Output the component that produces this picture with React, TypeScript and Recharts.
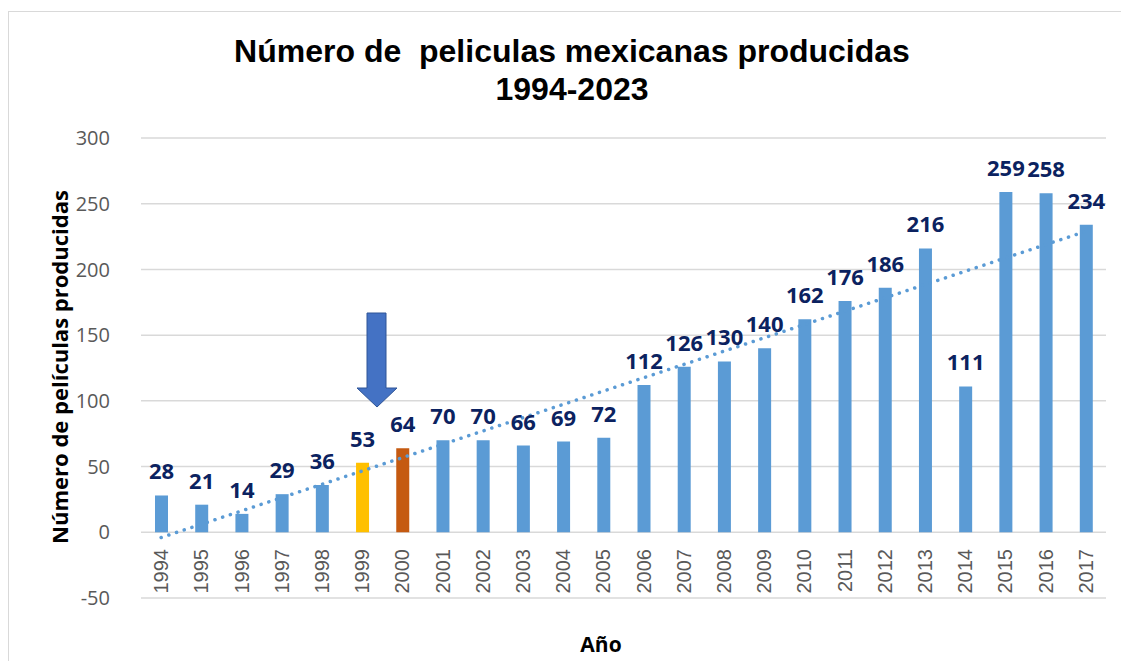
import React from "react";
import {
  ComposedChart,
  Bar,
  Line,
  XAxis,
  YAxis,
  CartesianGrid,
  Cell,
  LabelList,
} from "recharts";

// años y número de películas producidas
const years = [
  "1994", "1995", "1996", "1997", "1998", "1999", "2000", "2001",
  "2002", "2003", "2004", "2005", "2006", "2007", "2008", "2009",
  "2010", "2011", "2012", "2013", "2014", "2015", "2016", "2017",
];
const films = [
  28, 21, 14, 29, 36, 53, 64, 70, 70, 66, 69, 72,
  112, 126, 130, 140, 162, 176, 186, 216, 111, 259, 258, 234,
];
// tendencia lineal: valores al inicio y al final
const trendEnds = [-4, 229];
const yTicks = [-50, 0, 50, 100, 150, 200, 250, 300];
const highlight: Record<string, string> = {
  "1999": "#ffc000",
  "2000": "#c55a11",
};

const BAR = "#5b9bd5";
const GRAY = "#595959";

const chartData = years.map((year, i) => ({
  year,
  value: films[i],
  trend:
    i === 0 ? trendEnds[0] : i === years.length - 1 ? trendEnds[1] : null,
}));

const YearTick = (props: any) => {
  const { x, y, payload } = props;
  const tx = x + 7;
  const ty = y - 49;
  return (
    <text
      x={tx}
      y={ty}
      transform={`rotate(-90, ${tx}, ${ty})`}
      textAnchor="end"
      fill={GRAY}
      fontSize={20}
      fontFamily="'Liberation Sans', Arial, sans-serif"
    >
      {payload.value}
    </text>
  );
};

export default function App() {
  return (
    <div
      style={{
        position: "absolute",
        left: 0,
        top: 0,
        width: 1121,
        height: 661,
        overflow: "hidden",
        background: "#fff",
      }}
    >
      <div
        style={{
          position: "absolute",
          left: 8,
          top: 11,
          width: 1200,
          height: 800,
          border: "1.5px solid #d9d9d9",
        }}
      />
      <div style={{ position: "absolute", left: 0, top: 0 }}>
        <ComposedChart
          width={1121}
          height={661}
          data={chartData}
          margin={{ top: 138, right: 15, bottom: 62, left: 80 }}
        >
          <CartesianGrid stroke="#d9d9d9" strokeWidth={1.5} vertical={false} />
          <XAxis
            dataKey="year"
            axisLine={false}
            tickLine={false}
            tickSize={0}
            tickMargin={0}
            interval={0}
            height={1}
            tick={<YearTick />}
          />
          <YAxis
            domain={[-50, 300]}
            ticks={yTicks}
            width={61}
            axisLine={false}
            tickLine={false}
            tickSize={0}
            tickMargin={31}
            tick={{
              fill: GRAY,
              fontSize: 20,
              fontFamily: "'Open Sans', sans-serif",
            }}
          />
          <Bar dataKey="value" barSize={13} fill={BAR} isAnimationActive={false}>
            {chartData.map((d) => (
              <Cell key={d.year} fill={highlight[d.year] ?? BAR} />
            ))}
            <LabelList
              dataKey="value"
              position="top"
              offset={16}
              fill="#0b2260"
              fontSize={22}
              fontWeight={700}
              fontFamily="'Open Sans', sans-serif"
            />
          </Bar>
          <Line
            dataKey="trend"
            connectNulls
            dot={false}
            activeDot={false}
            stroke={BAR}
            strokeWidth={3.5}
            strokeDasharray="0.1 8"
            strokeLinecap="round"
            isAnimationActive={false}
          />
        </ComposedChart>
      </div>
      <svg
        width={1121}
        height={661}
        style={{ position: "absolute", left: 0, top: 0, pointerEvents: "none" }}
      >
        <g
          fontFamily="'Liberation Sans', Arial, sans-serif"
          fontWeight={700}
          fontSize={32}
          fill="#000"
          textAnchor="middle"
        >
          <text x={572} y={62} style={{ whiteSpace: "pre" }}>
            Número de  peliculas mexicanas producidas
          </text>
          <text x={572} y={100}>
            1994-2023
          </text>
        </g>
        <text
          x={68}
          y={367}
          transform="rotate(-90, 68, 367)"
          textAnchor="middle"
          fontFamily="'Open Sans', sans-serif"
          fontWeight={700}
          fontSize={22}
          fill="#000"
        >
          Número de películas producidas
        </text>
        <text
          x={601}
          y={652}
          textAnchor="middle"
          fontFamily="'Open Sans', sans-serif"
          fontWeight={700}
          fontSize={21}
          fill="#000"
        >
          Año
        </text>
        <polygon
          points="367,313 386,313 386,388 397,388 377,407 357,388 367,388"
          fill="#4472c4"
          stroke="#2f5597"
          strokeWidth={1}
        />
      </svg>
    </div>
  );
}
